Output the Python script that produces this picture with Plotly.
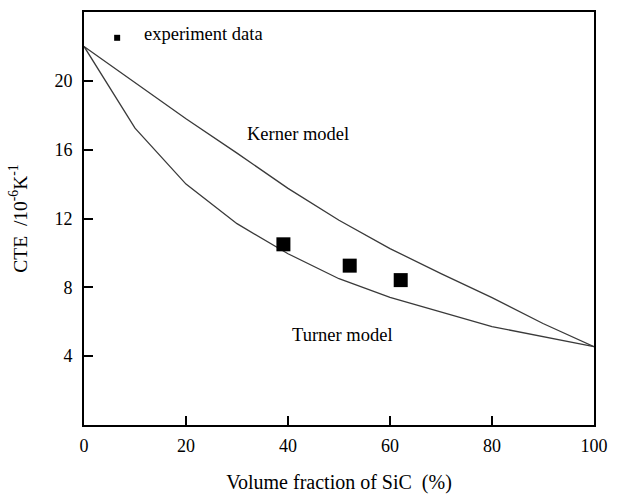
import plotly.graph_objects as go

# Data
vf_kerner = [0, 10, 20, 30, 40, 50, 60, 70, 80, 90, 100]
cte_kerner = [22.0, 19.9, 17.8, 15.8, 13.75, 11.9, 10.25, 8.8, 7.4, 5.9, 4.55]

vf_turner = [0, 10, 20, 30, 40, 50, 60, 80, 100]
cte_turner = [22.0, 17.25, 14.0, 11.7, 9.95, 8.5, 7.42, 5.72, 4.55]

vf_exp = [39.1, 52.1, 62.1]
cte_exp = [10.5, 9.26, 8.42]

x_ticks = [0, 20, 40, 60, 80, 100]
y_ticks = [4, 8, 12, 16, 20]

FONT = "Liberation Serif"
LINE_COLOR = "#3a3a3a"

fig = go.Figure()
fig.add_trace(go.Scatter(x=vf_kerner, y=cte_kerner, mode="lines",
                         line=dict(color=LINE_COLOR, width=1.3), showlegend=False))
fig.add_trace(go.Scatter(x=vf_turner, y=cte_turner, mode="lines",
                         line=dict(color=LINE_COLOR, width=1.3), showlegend=False))
fig.add_trace(go.Scatter(x=vf_exp, y=cte_exp, mode="markers",
                         marker=dict(symbol="square", size=14, color="black"),
                         showlegend=False))
# legend marker
fig.add_trace(go.Scatter(x=[6.5], y=[22.5], mode="markers",
                         marker=dict(symbol="square", size=6, color="black"),
                         showlegend=False))

fig.add_annotation(x=11.3, y=22.75, text="experiment data", showarrow=False,
                   xanchor="left", font=dict(family=FONT, size=18.5, color="black"))
fig.add_annotation(x=42, y=16.9, text="Kerner model", showarrow=False,
                   font=dict(family=FONT, size=18.5, color="black"))
fig.add_annotation(x=50.7, y=5.25, text="Turner model", showarrow=False,
                   font=dict(family=FONT, size=18.5, color="black"))

fig.update_layout(
    width=618, height=500,
    margin=dict(l=84, r=15, t=10, b=68),
    plot_bgcolor="white", paper_bgcolor="white",
    font=dict(family=FONT, size=18, color="black"),
)
fig.update_xaxes(range=[0, 100], tickvals=x_ticks, ticks="inside", ticklen=9,
                 tickwidth=1.5, tickcolor="black", ticklabelstandoff=3,
                 ticklabeloverflow="allow",
                 showline=True, linecolor="black", linewidth=2, mirror=True,
                 showgrid=False, zeroline=False,
                 title=dict(text="Volume fraction of SiC&nbsp; (%)", standoff=20,
                            font=dict(family=FONT, size=20)))
fig.update_yaxes(range=[0, 24], tickvals=y_ticks, ticks="inside", ticklen=9,
                 tickwidth=1.5, tickcolor="black", ticklabelstandoff=6,
                 showline=True, linecolor="black", linewidth=2, mirror=True,
                 showgrid=False, zeroline=False,
                 title=dict(text="CTE&nbsp; /10<sup>-6</sup>K<sup>-1</sup>", standoff=22,
                            font=dict(family=FONT, size=19.5)))

fig.write_html("out.html", config={"displayModeBar": False},
               post_script="document.body.style.margin='0px';")
